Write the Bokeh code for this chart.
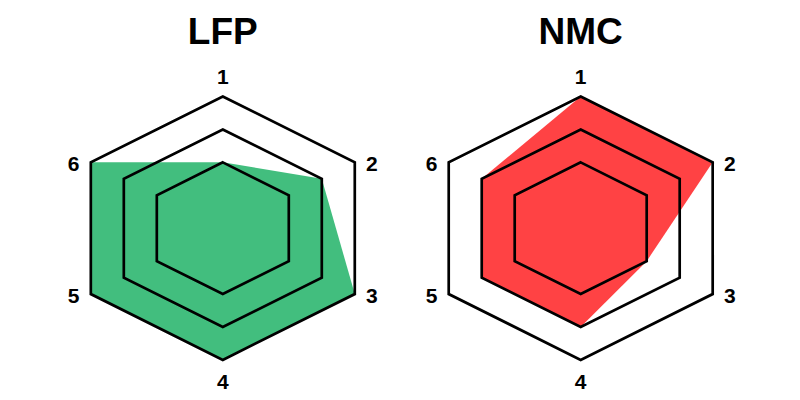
import numpy as np
from bokeh.plotting import figure
from bokeh.models import Range1d
from bokeh.core.properties import value
from bokeh.embed import file_html
from bokeh.resources import INLINE

# ---- data ----
axis_labels = ["1", "2", "3", "4", "5", "6"]
titles = ["LFP", "NMC"]
lfp_values = [2, 3, 4, 4, 4, 4]
nmc_values = [4, 4, 2, 3, 3, 3]
ring_levels = [2, 3, 4]
max_value = 4
colors = ["#42BE7E", "#FF4244"]

# ---- geometry (layout) ----
W, H = 792, 392
sx, sy = 152.4, 131.7            # px per data unit in x / y
cx_px = [222.3, 580.2]           # chart centres in frame px
cy_px_from_bottom = H - 227.7
x0 = -cx_px[0] / sx
y0 = -cy_px_from_bottom / sy
centers = [((c - cx_px[0]) / sx, 0.0) for c in cx_px]
title_y = (H - 31 - cy_px_from_bottom) / sy

n = len(axis_labels)
angles = np.arange(n) * 2 * np.pi / n   # 0 = top, clockwise
# label offsets: sideways for side vertices, vertical for top/bottom
lab_dx = np.sin(angles) * 1.13
lab_dy = (np.cos(angles) + np.where(np.abs(np.cos(angles)) > 0.9,
                                    np.cos(angles) * 21 / sy, 0.0) - 1.5 / sy)

p = figure(width=W, height=H, output_backend="svg", toolbar_location=None,
           x_range=Range1d(x0, x0 + W / sx), y_range=Range1d(y0, y0 + H / sy),
           min_border=0, outline_line_color=None)
p.axis.visible = False
p.grid.visible = False
p.background_fill_color = "white"
p.border_fill_color = "white"


def pts(vals, c):
    r = np.asarray(vals, dtype=float) / max_value
    return list(c[0] + r * np.sin(angles)), list(c[1] + r * np.cos(angles))


for c, vals, col, title in zip(centers, [lfp_values, nmc_values], colors, titles):
    xs, ys = pts(vals, c)
    p.patch(xs, ys, fill_color=col, line_color=None)
    for lvl in ring_levels:
        rx, ry = pts([lvl] * n, c)
        p.patch(rx + [rx[0]], ry + [ry[0]], fill_color=None, line_color="black",
                line_width=2.7, line_join="miter")
    lx = list(c[0] + lab_dx)
    ly = list(c[1] + lab_dy)
    p.text(lx, ly, text=axis_labels, text_align="center", text_baseline="middle",
           text_font=value("Liberation Sans"), text_font_style="bold",
           text_font_size="21px", text_color="black")
    p.text([c[0]], [title_y], text=[title], text_align="center", text_baseline="middle",
           text_font=value("Liberation Sans"), text_font_style="bold",
           text_font_size="37px", text_color="black")

open("out.html", "w").write(file_html(p, INLINE))
